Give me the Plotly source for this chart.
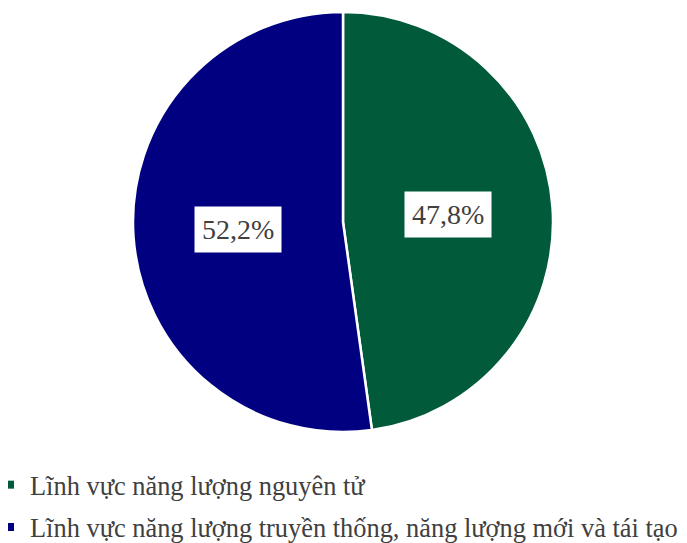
import math
import plotly.graph_objects as go

labels = ["Lĩnh vực năng lượng nguyên tử",
          "Lĩnh vực năng lượng truyền thống, năng lượng mới và tái tạo"]
values = [47.8, 52.2]
text_labels = ["47,8%", "52,2%"]
colors = ["#015A3A", "#000080"]

FONT = "Liberation Serif"
OFF = 8  # page body margin
W, H = 687 - OFF, 543 - OFF
cx, cy, R = 343 - OFF, 222 - OFF, 210
dom_x = [(cx - R) / W, (cx + R) / W]
dom_y = [1 - (cy + R) / H, 1 - (cy - R) / H]

fig = go.Figure(go.Pie(
    labels=labels, values=values, sort=False, direction="clockwise", rotation=0,
    marker=dict(colors=colors, line=dict(color="white", width=2.5)),
    textinfo="none", hoverinfo="label+percent", showlegend=False,
    domain=dict(x=dom_x, y=dom_y),
))

# legend entries
for i, (lab, col) in enumerate(zip(labels, colors)):
    fig.add_trace(go.Scatter(x=[None], y=[None], mode="markers", name=lab,
                             legendgroup=f"g{i}",
                             marker=dict(symbol="square", size=8, color=col)))

# data-driven label annotations at half radius along slice mid-angle
total = sum(values)
cum = 0
for v, t in zip(values, text_labels):
    mid = (cum + v / 2) / total * 2 * math.pi
    cum += v
    px = cx + 0.5 * R * math.sin(mid)
    py = cy - 0.5 * R * math.cos(mid)
    fig.add_annotation(x=px / W, y=1 - py / H, xref="paper", yref="paper",
                       text=t, showarrow=False, bgcolor="white",
                       font=dict(family=FONT, size=28, color="#404040"),
                       borderpad=7)

fig.update_layout(
    width=W, height=H, margin=dict(l=0, r=0, t=0, b=0, autoexpand=False),
    paper_bgcolor="white", plot_bgcolor="white",
    font=dict(family=FONT, size=26.4, color="#404040"),
    xaxis=dict(visible=False), yaxis=dict(visible=False),
    legend=dict(x=-18 / W, y=1 - 453 / H, xanchor="left", yanchor="top",
                orientation="v", font=dict(family=FONT, size=26.4, color="#404040"),
                tracegroupgap=5, itemwidth=30),
)
fig.write_html("out.html")
